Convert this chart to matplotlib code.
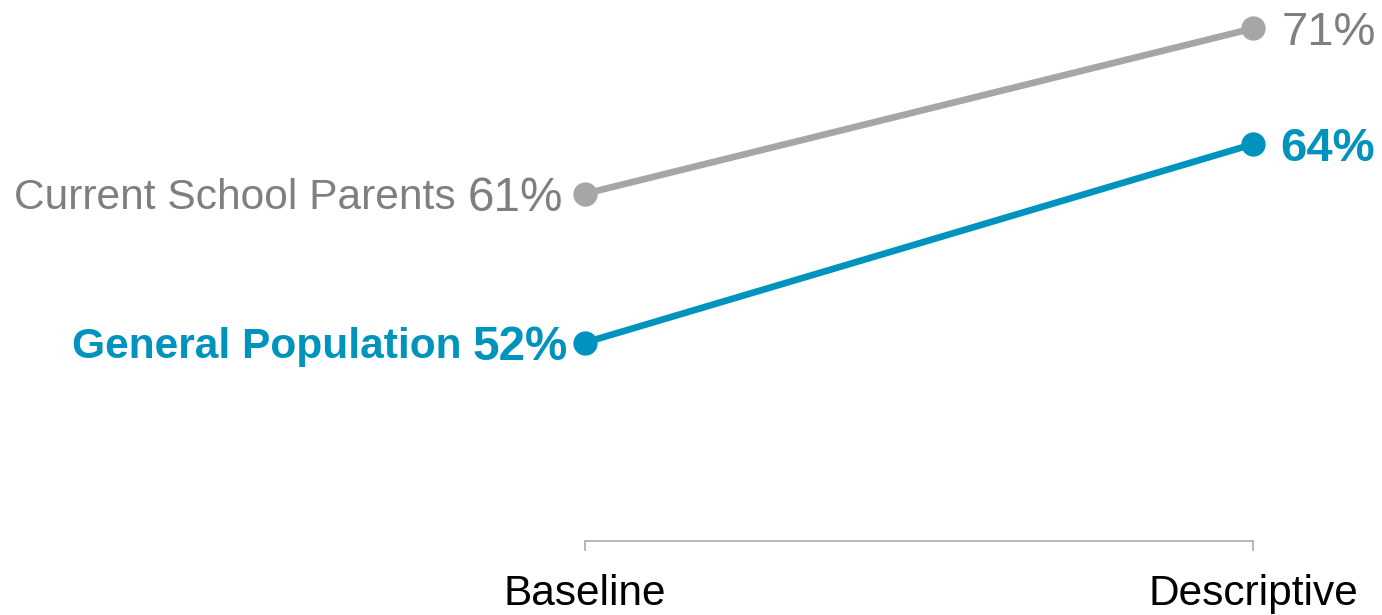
import matplotlib
matplotlib.use('Agg')
import matplotlib.pyplot as plt

plt.rcParams['font.family'] = ['Liberation Sans', 'DejaVu Sans']

# stages on the x axis
stages = ['Baseline', 'Descriptive']

# share of respondents per group, in percent
parents = [61, 71]
general = [52, 64]

GRAY_LINE = '#a6a6a6'
GRAY_TEXT = '#7f7f7f'
BLUE = '#0093bd'
AXIS = '#aaaaaa'

fig = plt.figure(figsize=(13.82, 6.15), dpi=100)
ax = fig.add_axes([585 / 1382, 74 / 615, 668 / 1382, 541 / 615])
ax.set_xlim(0, 1)
ax.set_ylim(40.0, 72.72)

x = list(range(len(stages)))
ax.plot(x, parents, color=GRAY_LINE, lw=4.8, marker='o', ms=16.5,
        solid_capstyle='round', clip_on=False, zorder=3)
ax.plot(x, general, color=BLUE, lw=4.8, marker='o', ms=16.5,
        solid_capstyle='round', clip_on=False, zorder=3)

fig.canvas.draw()
renderer = fig.canvas.get_renderer()


def left_label(name, val, color, weight, gap):
    pct = ax.annotate(f'{val}%', (x[0], val), xytext=(-gap, 0),
                      textcoords='offset pixels', ha='right',
                      va='center_baseline', fontsize=34.3, color=color,
                      fontweight=weight)
    w = pct.get_window_extent(renderer).width
    ax.annotate(name + ' ', (x[0], val), xytext=(-gap - w, 0),
                textcoords='offset pixels', ha='right',
                va='center_baseline', fontsize=30.6, color=color,
                fontweight=weight)


def right_label(val, color, weight, gap):
    ax.annotate(f'{val}%', (x[1], val), xytext=(gap, 0),
                textcoords='offset pixels', ha='left',
                va='center_baseline', fontsize=34, color=color,
                fontweight=weight)


left_label('Current School Parents', parents[0], GRAY_TEXT, 'normal', 22)
left_label('General Population', general[0], BLUE, 'bold', 17)
right_label(parents[1], GRAY_TEXT, 'normal', 29)
right_label(general[1], BLUE, 'bold', 27)

# bracket-style bottom axis only
for side in ['top', 'right', 'left']:
    ax.spines[side].set_visible(False)
ax.spines['bottom'].set_bounds(0, 1)
ax.spines['bottom'].set_color(AXIS)
ax.spines['bottom'].set_linewidth(1.2)
ax.set_yticks([])
ax.set_xticks(x)
ax.set_xticklabels(stages, fontsize=30.5)
ax.tick_params(axis='x', direction='out', length=7, width=1.2,
               color=AXIS, pad=17)
ax.patch.set_alpha(0)

fig.savefig('out.png', dpi=100)
